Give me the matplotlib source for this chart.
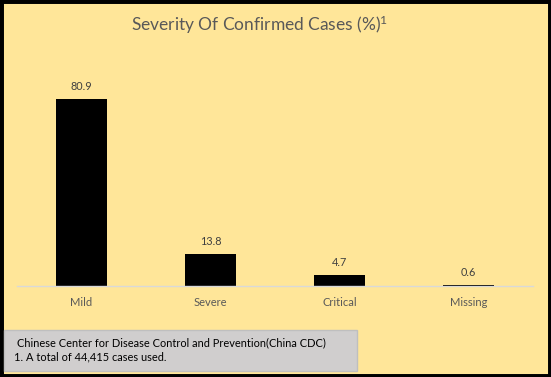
import matplotlib.pyplot as plt
from matplotlib.patches import Rectangle

# data
categories = ['Mild', 'Severe', 'Critical', 'Missing']
values = [80.9, 13.8, 4.7, 0.6]
value_labels = ['80.9', '13.8', '4.7', '0.6']

plt.rcParams['font.family'] = ['Lato', 'DejaVu Sans']
plt.rcParams['mathtext.default'] = 'regular'

W, H = 551, 377
fig = plt.figure(figsize=(W / 100, H / 100), dpi=100)
fig.patch.set_facecolor('#FFE699')

# black frame round the chart
fig.add_artist(Rectangle((0, 0), 1, 1, transform=fig.transFigure,
                         fill=False, edgecolor='black', linewidth=5))

# axes placed in pixel coords: x 17..533, y 78..286
ax = fig.add_axes([17 / W, 1 - 286 / H, 516 / W, 208 / H])
ax.set_facecolor('#FFE699')
ax.bar(range(len(categories)), values, width=0.40, color='black')
ax.set_xlim(-0.5, 3.5)
ax.set_ylim(0, 90)
for i, v in enumerate(values):
    ax.annotate(value_labels[i], (i, v), xytext=(0, 5), textcoords='offset points',
                ha='center', va='bottom', fontsize=7.8, color='#404040')

ax.set_xticks(range(len(categories)))
ax.set_xticklabels(categories, fontsize=8, color='#595959')
ax.tick_params(axis='x', length=0, pad=8)
ax.set_yticks([])
for s in ['top', 'right', 'left']:
    ax.spines[s].set_visible(False)
ax.spines['bottom'].set_color('#D9D9D9')
ax.spines['bottom'].set_linewidth(1)

# title
fig.text(260 / W, 1 - 25 / H, 'Severity Of Confirmed Cases (%)$^{1}$',
         ha='center', va='center', fontsize=12.5, color='#595959')

# source box
fig.add_artist(Rectangle((4 / W, 1 - 371 / H), 353 / W, 41 / H,
                         transform=fig.transFigure, facecolor='#D0CECE',
                         edgecolor='#BFBFBF', linewidth=1))
fig.text(17 / W, 1 - 343 / H, 'Chinese Center for Disease Control and Prevention(China CDC)',
         ha='left', va='center', fontsize=7.9, color='black')
fig.text(14 / W, 1 - 357 / H, '1. A total of 44,415 cases used.',
         ha='left', va='center', fontsize=7.9, color='black')

fig.savefig('out.png', dpi=100, facecolor=fig.get_facecolor())
